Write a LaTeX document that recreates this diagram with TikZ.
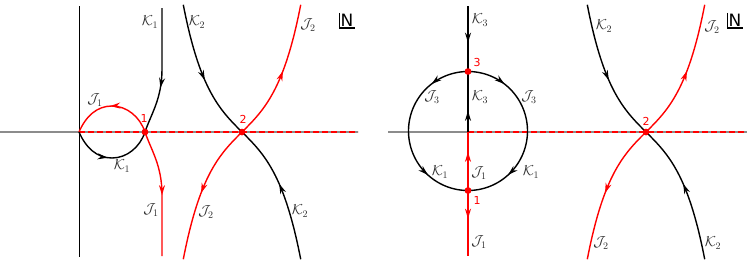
\documentclass[tikz,border=0pt]{standalone}
\usepackage{fontspec}
\newfontfamily\dejavu{DejaVu Sans}
\usetikzlibrary{decorations.markings,arrows.meta}
\definecolor{jred}{RGB}{255,0,0}
\definecolor{axisgray}{RGB}{140,140,140}
\definecolor{labelgray}{RGB}{45,45,45}
\tikzset{
  arrowat/.style={postaction={decorate},decoration={markings,mark=at position #1 with {\arrow{Stealth[length=10pt,width=6pt]}}}},
  kcurve/.style={draw=black,line width=1.4pt},
  jcurve/.style={draw=jred,line width=1.4pt},
  axisline/.style={draw=axisgray,line width=1.1pt},
  vaxis/.style={draw=black,line width=0.9pt},
  dashline/.style={draw=jred,line width=1.1pt,dash pattern=on 6pt off 3pt},
  critpt/.style={circle,fill=jred,inner sep=0pt,minimum size=6.5pt},
  lab/.style={text=labelgray,font=\fontsize{14.5}{16}\selectfont,inner sep=0pt},
  numlab/.style={text=jred,font=\dejavu\fontsize{11}{12}\selectfont,inner sep=0pt},
  nlab/.style={font=\dejavu\fontsize{17}{17}\selectfont,inner sep=1.2pt},
  nframe/.style={draw=black,line width=1.2pt}
}
\begin{document}
\begin{tikzpicture}[x=1pt,y=-1pt]
\useasboundingbox (0,0) rectangle (747,263);
% ================= LEFT PANEL =================
\coordinate (oL) at (79,132);
\coordinate (axLs) at (0,132);
\coordinate (axLe) at (358,132);
\coordinate (vtop) at (79,6);
\coordinate (vbot) at (79,257);
\draw[axisline] (axLs) -- (axLe);
\draw[vaxis] (vtop) -- (vbot);
\draw[dashline] (oL) -- (axLe);
\node[critpt] (p1L) at (145,132) {};
\node[critpt] (p2L) at (242,132) {};
% J1 (red)
\coordinate (j1Lend) at (162,256);
\draw[jcurve,arrowat=0.52] (p1L.center) .. controls (140,117) and (127,106) .. (112,106)
   .. controls (97,106) and (86,116) .. (oL);
\draw[jcurve,arrowat=0.52] (p1L.center) .. controls (151,150) and (162,165) .. (162,195) -- (j1Lend);
% K1 (black)
\coordinate (k1Ltop) at (162,8);
\draw[kcurve,arrowat=0.63] (k1Ltop) -- (162,69) .. controls (162,99) and (151,114) .. (p1L.center);
\draw[kcurve,arrowat=0.45] (oL) .. controls (86,148) and (97,158) .. (112,158)
   .. controls (127,158) and (140,147) .. (p1L.center);
% K2 / J2 hyperbolas
\draw[kcurve,arrowat=0.55] plot[domain=-2.33:0,samples=50,variable=\t] ({242+25.2*\t},{132+25*sinh(\t)});
\draw[kcurve,arrowat=0.55] plot[domain=-2.33:0,samples=50,variable=\t] ({242-25.2*\t},{132-25*sinh(\t)});
\draw[jcurve,arrowat=0.52] plot[domain=0:2.33,samples=50,variable=\t] ({242+25.2*\t},{132-25*sinh(\t)});
\draw[jcurve,arrowat=0.52] plot[domain=0:2.33,samples=50,variable=\t] ({242-25.2*\t},{132+25*sinh(\t)});
\node[critpt] at (p1L) {};
\node[critpt] at (p2L) {};
% labels
\node[lab] (lk1a) at (150,22) {$\mathcal{K}_1$};
\node[lab] (lj1a) at (95,100) {$\mathcal{J}_1$};
\node[lab] (lk1b) at (122,166) {$\mathcal{K}_1$};
\node[lab] (lj1b) at (151,210) {$\mathcal{J}_1$};
\node[lab] (lk2a) at (197,22) {$\mathcal{K}_2$};
\node[lab] (lj2a) at (308,25) {$\mathcal{J}_2$};
\node[lab] (lj2b) at (206,212) {$\mathcal{J}_2$};
\node[lab] (lk2b) at (300,211) {$\mathcal{K}_2$};
\node[numlab] (n1L) at (144,118) {1};
\node[numlab] (n2L) at (243,119) {2};
\node[nlab] (NL) at (347,20.5) {N};
\draw[nframe] (NL.north west) -- (NL.south west) -- (NL.south east);
% ================= RIGHT PANEL =================
\coordinate (axRs) at (388,132);
\coordinate (axRe) at (747,132);
\coordinate (oR) at (468,132);
\draw[axisline] (axRs) -- (axRe);
\draw[dashline] (oR) -- (axRe);
\node[critpt] (p3R) at (468,71.5) {};
\node[critpt] (p1R) at (468,190.5) {};
\node[critpt] (p2R) at (646,132) {};
% circle arcs
\draw[kcurve,arrowat=0.42] plot[domain=90:180,samples=40,variable=\a] ({468+59.5*cos(\a)},{131-59.5*sin(\a)});
\draw[kcurve,arrowat=0.42] plot[domain=0:90,samples=40,variable=\a] ({468+59.5*sin(\a)},{131-59.5*cos(\a)});
\draw[kcurve,arrowat=0.53] plot[domain=180:270,samples=40,variable=\a] ({468+59.5*cos(\a)},{131-59.5*sin(\a)});
\draw[kcurve,arrowat=0.53] plot[domain=0:90,samples=40,variable=\a] ({468+59.5*cos(\a)},{131+59.5*sin(\a)});
% vertical lines
\coordinate (k3top) at (468,6);
\coordinate (j1Rend) at (468,256);
\draw[kcurve,arrowat=0.56] (k3top) -- (p3R.center);
\draw[kcurve,arrowat=0.35] (oR) -- (p3R.center);
\draw[jcurve,arrowat=0.66] (p1R.center) -- (oR);
\draw[jcurve,arrowat=0.43] (p1R.center) -- (j1Rend);
% hyperbolas
\draw[kcurve,arrowat=0.55] plot[domain=-2.33:0,samples=50,variable=\t] ({646+25.2*\t},{132+25*sinh(\t)});
\draw[kcurve,arrowat=0.55] plot[domain=-2.33:0,samples=50,variable=\t] ({646-25.2*\t},{132-25*sinh(\t)});
\draw[jcurve,arrowat=0.52] plot[domain=0:2.33,samples=50,variable=\t] ({646+25.2*\t},{132-25*sinh(\t)});
\draw[jcurve,arrowat=0.52] plot[domain=0:2.33,samples=50,variable=\t] ({646-25.2*\t},{132+25*sinh(\t)});
\node[critpt] at (p3R) {};
\node[critpt] at (p1R) {};
\node[critpt] at (p2R) {};
% labels
\node[lab] (rk3a) at (480,20) {$\mathcal{K}_3$};
\node[lab] (rj3a) at (432,97) {$\mathcal{J}_3$};
\node[lab] (rk3b) at (480,97) {$\mathcal{K}_3$};
\node[lab] (rj3b) at (529,97) {$\mathcal{J}_3$};
\node[lab] (rk1a) at (440,172) {$\mathcal{K}_1$};
\node[lab] (rj1a) at (479,173) {$\mathcal{J}_1$};
\node[lab] (rk1b) at (531,172) {$\mathcal{K}_1$};
\node[lab] (rj1b) at (479,242) {$\mathcal{J}_1$};
\node[lab] (rk2a) at (604,26) {$\mathcal{K}_2$};
\node[lab] (rj2a) at (712,27) {$\mathcal{J}_2$};
\node[lab] (rj2b) at (601,243) {$\mathcal{J}_2$};
\node[lab] (rk2b) at (713,243) {$\mathcal{K}_2$};
\node[numlab] (n3R) at (477,62) {3};
\node[numlab] (n1R) at (477,200) {1};
\node[numlab] (n2R) at (646,121) {2};
\node[nlab] (NR) at (735,20.5) {N};
\draw[nframe] (NR.north west) -- (NR.south west) -- (NR.south east);
\end{tikzpicture}
\end{document}
